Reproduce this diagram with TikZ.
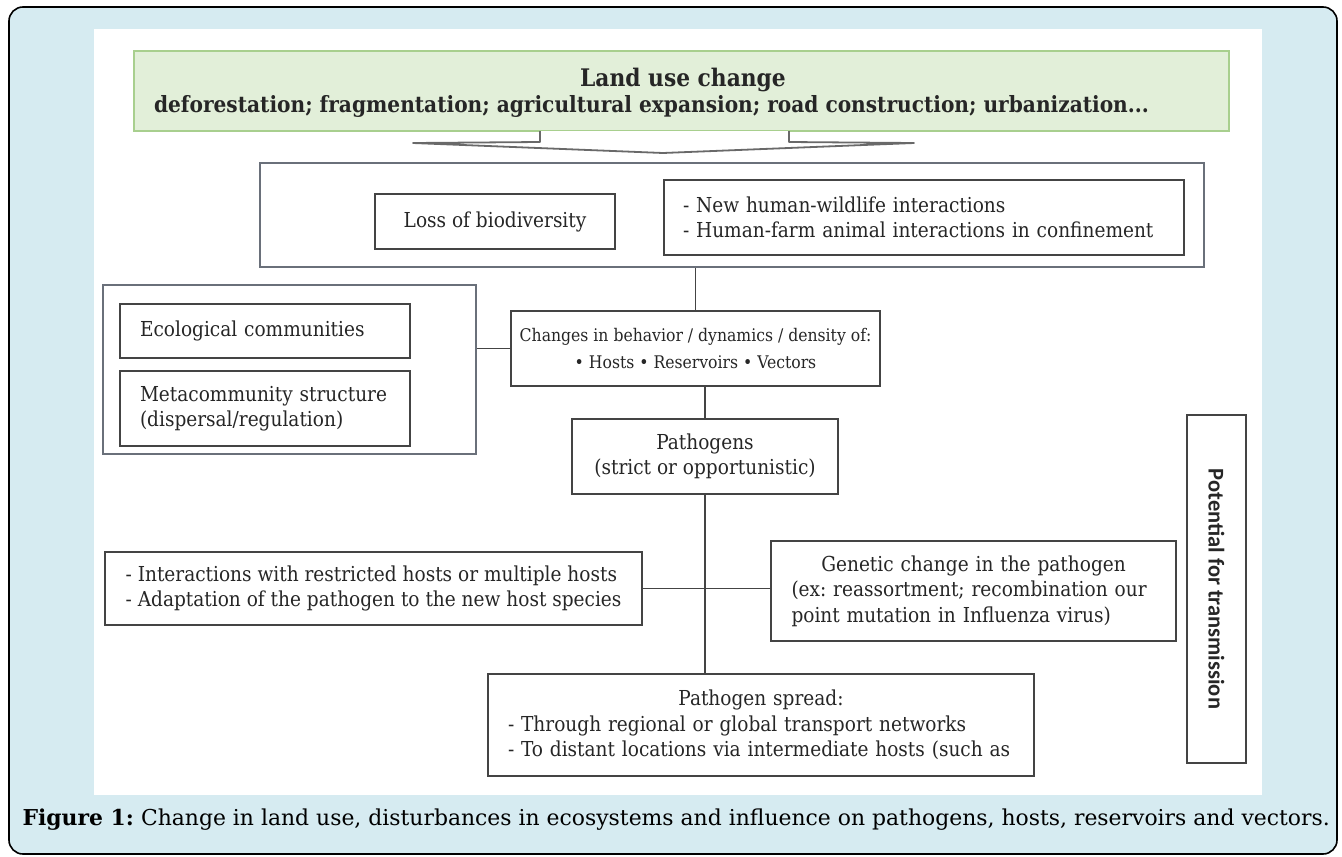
\documentclass[tikz,border=0pt]{standalone}
\usepackage{fontspec}
\setmainfont{DejaVu Serif}
\newfontfamily\diagfont{DejaVu Serif Condensed}
\newfontfamily\potfont{Carlito}
\usetikzlibrary{calc, positioning}
\frenchspacing
\definecolor{panelblue}{HTML}{D6EBF1}
\definecolor{landgreen}{HTML}{E2EFD9}
\definecolor{landedge}{HTML}{A8CF8E}
\definecolor{boxline}{HTML}{444444}
\definecolor{groupline}{HTML}{6A707A}
\newcommand{\diagtext}{\diagfont\fontsize{20.6}{25.5}\selectfont}
\tikzstyle{box} = [draw=boxline, line width=1.8pt, fill=white, inner sep=0pt, text=black!85, font=\diagtext]
\tikzstyle{group} = [draw=groupline, line width=2pt, inner sep=0pt]
\tikzstyle{link} = [draw=boxline, line width=1.8pt]

\begin{document}
\begin{tikzpicture}[x=1pt, y=-1pt]
        \useasboundingbox (0,0) rectangle (1342,857);
        % panel and white figure area
        \draw [fill=panelblue, line width=1.6pt, rounded corners=14pt] (9,7) rectangle (1337,854);
        \fill [white] (94,29) rectangle (1262,795);
        % land use change
        \node (landuse) [draw=landedge, fill=landgreen, line width=1.5pt, minimum width=1095pt, minimum height=80pt] at (681.5,91) {};
        \node (title) [text=black!85, font=\diagfont\fontsize{24.2}{28}\selectfont\bfseries] at (683,80) {Land use change};
        \node (causes) [text=black!85, font=\diagfont\fontsize{22.4}{26}\selectfont\bfseries] at (651.5,106) {deforestation; fragmentation; agricultural expansion; road construction; urbanization...};
        \draw [draw=boxline!80, fill=white, line width=1.8pt, line join=round] (540,131) -- (540,142) -- (413,143) -- (663,153) -- (914,143) -- (789,142) -- (789,131);
        % first level
        \node (impact) [group, minimum width=944pt, minimum height=104pt] at (732,215) {};
        \node (biodiv) [box, minimum width=240pt, minimum height=55pt] at (495,221.5) {Loss of biodiversity};
        \node (contact) [box, align=left, text width=482pt, minimum width=520pt, minimum height=75pt] at (924,217.5) {- New human-wildlife interactions\\- Human-farm animal interactions in confinement};
        % ecology group
        \node (ecogroup) [group, minimum width=373pt, minimum height=169pt] at (289.5,369.5) {};
        \node (ecocomm) [box, align=left, text width=250pt, minimum width=290pt, minimum height=54pt] at (265,331) {Ecological communities};
        \node (metacomm) [box, align=left, text width=250pt, minimum width=290pt, minimum height=75pt] at (265,408.5) {Metacommunity structure\\(dispersal/regulation)};
        % main chain
        \node (changes) [box, align=center, minimum width=369pt, minimum height=75pt, font=\diagfont\fontsize{17.4}{27}\selectfont] at (695.5,348.5) {Changes in behavior / dynamics / density of:\\\textbullet{} Hosts \textbullet{} Reservoirs \textbullet{} Vectors};
        \node (pathogens) [box, align=center, minimum width=266pt, minimum height=75pt] at (705,456.5) {Pathogens\\(strict or opportunistic)};
        \node (interactions) [box, align=left, minimum width=537pt, minimum height=73pt] at (373.5,588.5) {- Interactions with restricted hosts or multiple hosts\\- Adaptation of the pathogen to the new host species};
        \node (genetic) [box, align=left, text width=364pt, minimum width=405pt, minimum height=100pt] at (973.5,591) {\makebox[364pt]{Genetic change in the pathogen}\\(ex: reassortment; recombination our\\point mutation in Influenza virus)};
        \node (spread) [box, align=left, text width=506pt, minimum width=546pt, minimum height=102pt] at (761,725) {\makebox[506pt]{Pathogen spread:}\\- Through regional or global transport networks\\- To distant locations via intermediate hosts (such as};
        \node (potential) [box, minimum width=59pt, minimum height=348pt] at (1216.5,589) {\rotatebox{-90}{\potfont\fontsize{22.5}{24}\selectfont\bfseries Potential for transmission}};
        % connectors
        \draw [link] (changes.north |- impact.south) -- (changes.north);
        \draw [link] (ecogroup.east |- changes.west) -- (changes.west);
        \draw [link] (pathogens.north |- changes.south) -- (pathogens.north);
        \draw [link] (pathogens.south) -- (pathogens.south |- spread.north);
        \draw [link] (interactions.east) -- (interactions.east -| genetic.west);
        % caption
        \node (caption) [anchor=west, font=\fontsize{21.9}{26}\selectfont] at (19,820) {\textbf{Figure 1:} Change in land use, disturbances in ecosystems and influence on pathogens, hosts, reservoirs and vectors.};
    \end{tikzpicture}
\end{document}
